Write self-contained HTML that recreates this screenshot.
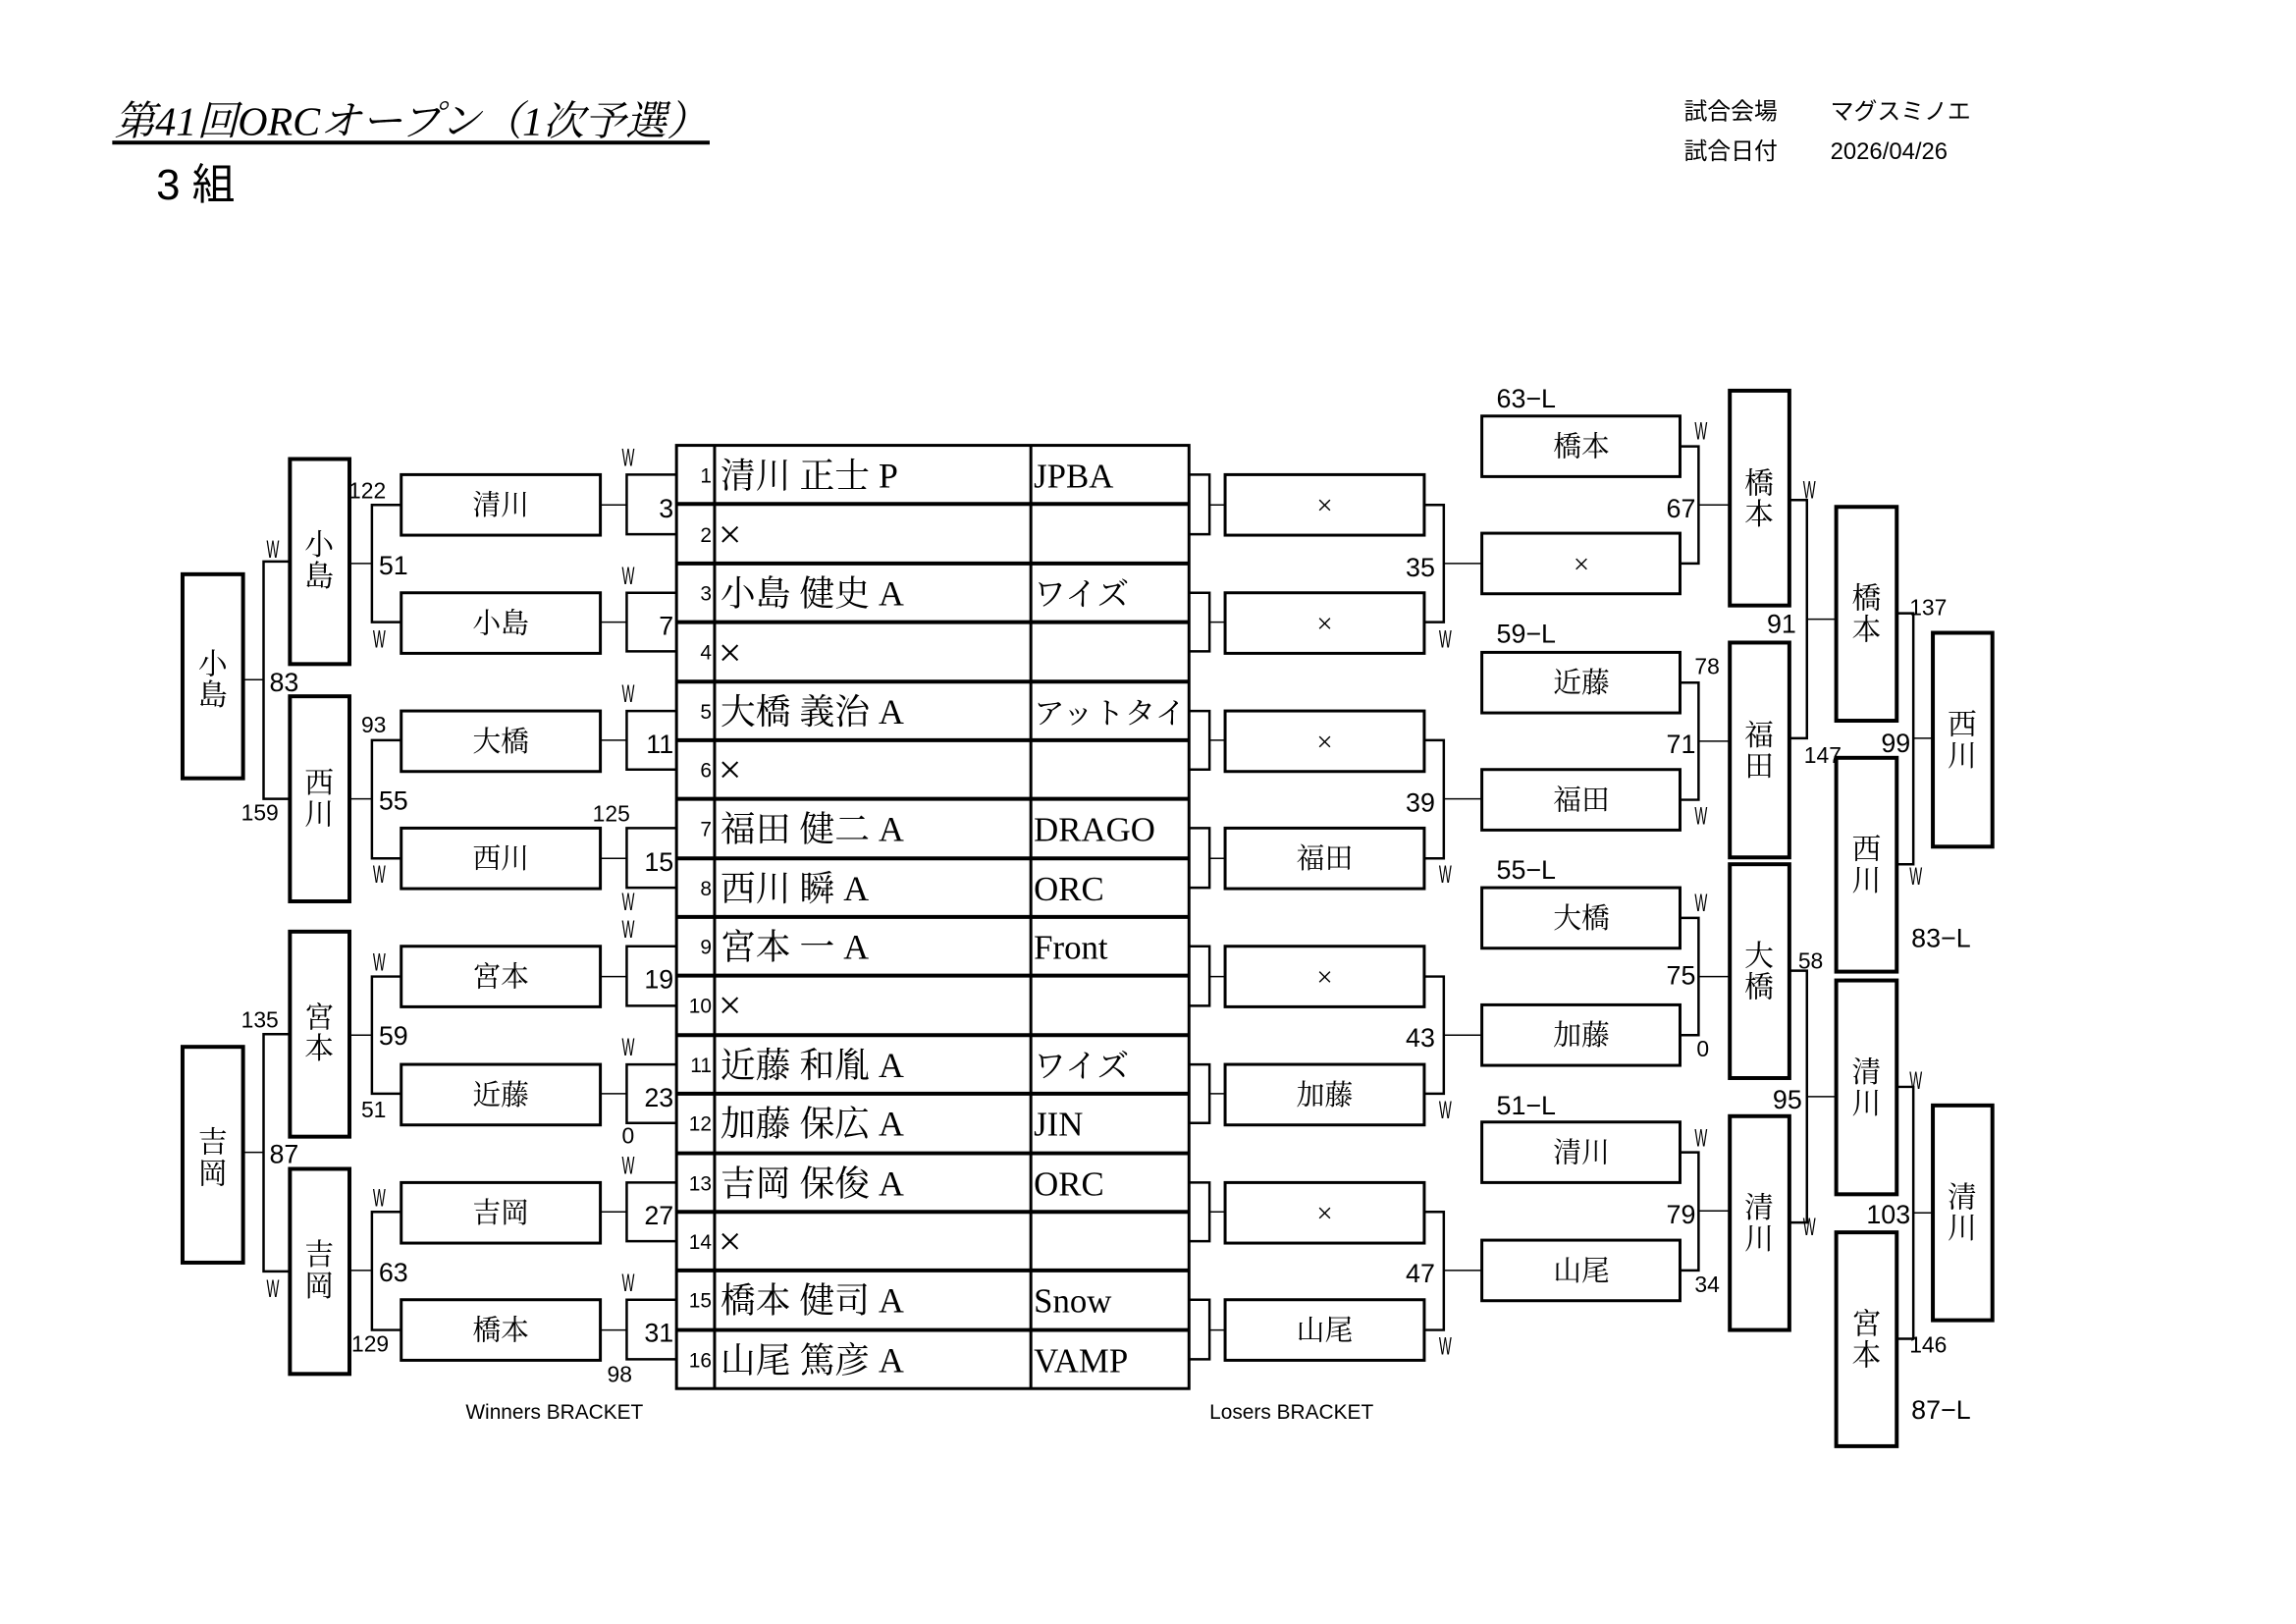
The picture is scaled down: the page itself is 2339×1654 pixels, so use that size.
<!DOCTYPE html>
<html><head><meta charset="utf-8">
<style>
html,body{margin:0;padding:0;background:#fff;}
svg{display:block;}
.s{font-family:"Liberation Sans","Noto Sans CJK JP",sans-serif;}
.m{font-family:"Liberation Serif","Noto Serif CJK SC",serif;}
</style></head>
<body>
<svg width="2339" height="1654" viewBox="0 0 2352 1663" xmlns="http://www.w3.org/2000/svg">
<rect x="0" y="0" width="2352" height="1663" fill="#fff"/>
<text x="117" y="138" class="m" font-size="42" font-style="italic" textLength="608" lengthAdjust="spacingAndGlyphs">第41回ORCオープン（1次予選）</text>
<line x1="115" y1="146" x2="727" y2="146" stroke="#000" stroke-width="4"/>
<text x="160" y="204" class="s" font-size="44">3 組</text>
<text x="1725" y="122" class="s" font-size="24">試合会場</text>
<text x="1875" y="122" class="s" font-size="24">マグスミノエ</text>
<text x="1725" y="163" class="s" font-size="24">試合日付</text>
<text x="1875" y="163" class="s" font-size="24">2026/04/26</text>

<g fill="none" stroke="#000">
<rect x="693" y="456" width="525" height="966" stroke-width="3"/>
<line x1="732" y1="456" x2="732" y2="1422" stroke-width="3"/>
<line x1="1056" y1="456" x2="1056" y2="1422" stroke-width="3"/>
<g stroke-width="4">
<line x1="693" y1="516" x2="1218" y2="516"/><line x1="693" y1="577" x2="1218" y2="577"/>
<line x1="693" y1="637" x2="1218" y2="637"/><line x1="693" y1="698" x2="1218" y2="698"/>
<line x1="693" y1="758" x2="1218" y2="758"/><line x1="693" y1="818" x2="1218" y2="818"/>
<line x1="693" y1="879" x2="1218" y2="879"/><line x1="693" y1="939" x2="1218" y2="939"/>
<line x1="693" y1="999" x2="1218" y2="999"/><line x1="693" y1="1060" x2="1218" y2="1060"/>
<line x1="693" y1="1120" x2="1218" y2="1120"/><line x1="693" y1="1181" x2="1218" y2="1181"/>
<line x1="693" y1="1241" x2="1218" y2="1241"/><line x1="693" y1="1301" x2="1218" y2="1301"/>
<line x1="693" y1="1362" x2="1218" y2="1362"/>
</g>

<g stroke-width="2.5">
<path d="M693 486H642V547H693"/><path d="M693 607H642V667H693"/>
<path d="M693 728H642V788H693"/><path d="M693 848H642V909H693"/>
<path d="M693 969H642V1030H693"/><path d="M693 1090H642V1150H693"/>
<path d="M693 1211H642V1271H693"/><path d="M693 1331H642V1392H693"/>
</g>
<g stroke-width="1.5">
<line x1="615" y1="517" x2="642" y2="517"/><line x1="615" y1="637" x2="642" y2="637"/>
<line x1="615" y1="758" x2="642" y2="758"/><line x1="615" y1="879" x2="642" y2="879"/>
<line x1="615" y1="1000" x2="642" y2="1000"/><line x1="615" y1="1120" x2="642" y2="1120"/>
<line x1="615" y1="1241" x2="642" y2="1241"/><line x1="615" y1="1362" x2="642" y2="1362"/>
</g>
<g stroke-width="3">
<rect x="411" y="486" width="204" height="62"/><rect x="411" y="607" width="204" height="62"/>
<rect x="411" y="728" width="204" height="62"/><rect x="411" y="848" width="204" height="62"/>
<rect x="411" y="969" width="204" height="62"/><rect x="411" y="1090" width="204" height="62"/>
<rect x="411" y="1211" width="204" height="62"/><rect x="411" y="1331" width="204" height="62"/>
</g>
<g stroke-width="2.5">
<path d="M411 517H381V637H411"/><path d="M411 758H381V879H411"/>
<path d="M411 1000H381V1120H411"/><path d="M411 1241H381V1362H411"/>
</g>
<g stroke-width="1.5">
<line x1="358" y1="577" x2="381" y2="577"/><line x1="358" y1="818" x2="381" y2="818"/>
<line x1="358" y1="1060" x2="381" y2="1060"/><line x1="358" y1="1301" x2="381" y2="1301"/>
</g>
<g stroke-width="4">
<rect x="297" y="470" width="61" height="210"/><rect x="297" y="713" width="61" height="210"/>
<rect x="297" y="954" width="61" height="210"/><rect x="297" y="1197" width="61" height="210"/>
</g>
<g stroke-width="2.5">
<path d="M297 575H270V818H297"/><path d="M297 1059H270V1302H297"/>
</g>
<g stroke-width="1.5">
<line x1="249" y1="696" x2="270" y2="696"/><line x1="249" y1="1180" x2="270" y2="1180"/>
</g>
<g stroke-width="4">
<rect x="187" y="588" width="62" height="209"/><rect x="187" y="1072" width="62" height="221"/>
</g>

<g stroke-width="2.5">
<path d="M1218 486H1239V547H1218"/><path d="M1218 607H1239V667H1218"/>
<path d="M1218 728H1239V788H1218"/><path d="M1218 848H1239V909H1218"/>
<path d="M1218 969H1239V1030H1218"/><path d="M1218 1090H1239V1150H1218"/>
<path d="M1218 1211H1239V1271H1218"/><path d="M1218 1331H1239V1392H1218"/>
</g>
<g stroke-width="1.5">
<line x1="1239" y1="517" x2="1255" y2="517"/><line x1="1239" y1="637" x2="1255" y2="637"/>
<line x1="1239" y1="758" x2="1255" y2="758"/><line x1="1239" y1="879" x2="1255" y2="879"/>
<line x1="1239" y1="1000" x2="1255" y2="1000"/><line x1="1239" y1="1120" x2="1255" y2="1120"/>
<line x1="1239" y1="1241" x2="1255" y2="1241"/><line x1="1239" y1="1362" x2="1255" y2="1362"/>
</g>
<g stroke-width="3">
<rect x="1255" y="486" width="204" height="62"/><rect x="1255" y="607" width="204" height="62"/>
<rect x="1255" y="728" width="204" height="62"/><rect x="1255" y="848" width="204" height="62"/>
<rect x="1255" y="969" width="204" height="62"/><rect x="1255" y="1090" width="204" height="62"/>
<rect x="1255" y="1211" width="204" height="62"/><rect x="1255" y="1331" width="204" height="62"/>
</g>
<g stroke-width="2.5">
<path d="M1459 517H1479V637H1459"/><path d="M1459 758H1479V879H1459"/>
<path d="M1459 1000H1479V1120H1459"/><path d="M1459 1241H1479V1362H1459"/>
</g>
<g stroke-width="1.5">
<line x1="1479" y1="577" x2="1518" y2="577"/><line x1="1479" y1="818" x2="1518" y2="818"/>
<line x1="1479" y1="1060" x2="1518" y2="1060"/><line x1="1479" y1="1301" x2="1518" y2="1301"/>
</g>
<g stroke-width="3">
<rect x="1518" y="426" width="203" height="62"/><rect x="1518" y="546" width="203" height="62"/>
<rect x="1518" y="668" width="203" height="62"/><rect x="1518" y="788" width="203" height="62"/>
<rect x="1518" y="909" width="203" height="62"/><rect x="1518" y="1029" width="203" height="62"/>
<rect x="1518" y="1149" width="203" height="62"/><rect x="1518" y="1270" width="203" height="62"/>
</g>
<g stroke-width="2.5">
<path d="M1721 457H1740V577H1721"/><path d="M1721 699H1740V819H1721"/>
<path d="M1721 940H1740V1060H1721"/><path d="M1721 1180H1740V1301H1721"/>
</g>
<g stroke-width="1.5">
<line x1="1740" y1="517" x2="1772" y2="517"/><line x1="1740" y1="759" x2="1772" y2="759"/>
<line x1="1740" y1="1000" x2="1772" y2="1000"/><line x1="1740" y1="1240" x2="1772" y2="1240"/>
</g>
<g stroke-width="4">
<rect x="1772" y="400" width="61" height="220"/><rect x="1772" y="658" width="61" height="220"/>
<rect x="1772" y="885" width="61" height="219"/><rect x="1772" y="1143" width="61" height="219"/>
</g>
<g stroke-width="2.5">
<path d="M1833 512H1851V756H1833"/><path d="M1833 994H1851V1252H1833"/>
</g>
<g stroke-width="1.5">
<line x1="1851" y1="634" x2="1881" y2="634"/><line x1="1851" y1="1123" x2="1881" y2="1123"/>
</g>
<g stroke-width="4">
<rect x="1881" y="519" width="62" height="219"/><rect x="1881" y="776" width="62" height="219"/>
<rect x="1881" y="1004" width="62" height="219"/><rect x="1881" y="1262" width="62" height="219"/>
</g>
<g stroke-width="2.5">
<path d="M1943 628H1960V885H1943"/><path d="M1943 1113H1960V1371H1943"/>
</g>
<g stroke-width="1.5">
<line x1="1960" y1="756" x2="1980" y2="756"/><line x1="1960" y1="1242" x2="1980" y2="1242"/>
</g>
<g stroke-width="4">
<rect x="1980" y="648" width="61" height="219"/><rect x="1980" y="1132" width="61" height="220"/>
</g>
</g>

<g class="s" font-size="21" text-anchor="end">
<text x="729" y="494">1</text><text x="729" y="555">2</text><text x="729" y="615">3</text><text x="729" y="675">4</text>
<text x="729" y="736">5</text><text x="729" y="796">6</text><text x="729" y="856">7</text><text x="729" y="917">8</text>
<text x="729" y="977">9</text><text x="729" y="1037">10</text><text x="729" y="1098">11</text><text x="729" y="1158">12</text>
<text x="729" y="1219">13</text><text x="729" y="1279">14</text><text x="729" y="1339">15</text><text x="729" y="1400">16</text>
</g>
<g class="m" font-size="36">
<text x="738" y="499">清川 正士 P</text>
<text x="738" y="620">小島 健史 A</text>
<text x="738" y="741">大橋 義治 A</text>
<text x="738" y="861">福田 健二 A</text><text x="738" y="922">西川 瞬 A</text>
<text x="738" y="982">宮本 一 A</text>
<text x="738" y="1103">近藤 和胤 A</text><text x="738" y="1163">加藤 保広 A</text>
<text x="738" y="1224">吉岡 保俊 A</text>
<text x="738" y="1344">橋本 健司 A</text><text x="738" y="1405">山尾 篤彦 A</text>
</g>
<g class="m" font-size="42">
<text x="736" y="561">×</text><text x="736" y="682">×</text><text x="736" y="802">×</text>
<text x="736" y="1043">×</text><text x="736" y="1285">×</text>
</g>
<g class="m" font-size="35">
<text x="1059" y="499">JPBA</text>
<text x="1059" y="620" font-size="33">ワイズ</text>
<text x="1059" y="741" font-size="31" textLength="156" lengthAdjust="spacingAndGlyphs">アットタイ</text>
<text x="1059" y="861">DRAGO</text><text x="1059" y="922">ORC</text>
<text x="1059" y="982">Front</text>
<text x="1059" y="1103" font-size="33">ワイズ</text><text x="1059" y="1163">JIN</text>
<text x="1059" y="1224">ORC</text>
<text x="1059" y="1344">Snow</text><text x="1059" y="1405">VAMP</text>
</g>

<g class="m" font-size="29" text-anchor="middle">
<text x="513" y="527">清川</text><text x="513" y="648">小島</text><text x="513" y="769">大橋</text><text x="513" y="889">西川</text>
<text x="513" y="1010">宮本</text><text x="513" y="1131">近藤</text><text x="513" y="1252">吉岡</text><text x="513" y="1372">橋本</text>
<text x="1357" y="527">×</text><text x="1357" y="648">×</text><text x="1357" y="769">×</text><text x="1357" y="889">福田</text>
<text x="1357" y="1010">×</text><text x="1357" y="1131">加藤</text><text x="1357" y="1252">×</text><text x="1357" y="1372">山尾</text>
<text x="1620" y="467">橋本</text><text x="1620" y="587">×</text><text x="1620" y="709">近藤</text><text x="1620" y="829">福田</text>
<text x="1620" y="950">大橋</text><text x="1620" y="1070">加藤</text><text x="1620" y="1190">清川</text><text x="1620" y="1311">山尾</text>
</g>
<g class="m" font-size="30" text-anchor="middle">
<text x="218" y="690">小</text><text x="218" y="722">島</text>
<text x="218" y="1180">吉</text><text x="218" y="1212">岡</text>
<text x="327" y="568">小</text><text x="327" y="600">島</text>
<text x="327" y="812">西</text><text x="327" y="844">川</text>
<text x="327" y="1052">宮</text><text x="327" y="1084">本</text>
<text x="327" y="1295">吉</text><text x="327" y="1327">岡</text>
<text x="1802" y="505">橋</text><text x="1802" y="537">本</text>
<text x="1802" y="763">福</text><text x="1802" y="795">田</text>
<text x="1802" y="989">大</text><text x="1802" y="1021">橋</text>
<text x="1802" y="1247">清</text><text x="1802" y="1279">川</text>
<text x="1912" y="623">橋</text><text x="1912" y="655">本</text>
<text x="1912" y="880">西</text><text x="1912" y="912">川</text>
<text x="1912" y="1108">清</text><text x="1912" y="1140">川</text>
<text x="1912" y="1366">宮</text><text x="1912" y="1398">本</text>
<text x="2010" y="752">西</text><text x="2010" y="784">川</text>
<text x="2010" y="1236">清</text><text x="2010" y="1268">川</text>
</g>

<g class="s" font-size="25">
<text x="637" y="477" textLength="13" lengthAdjust="spacingAndGlyphs">W</text>
<text x="637" y="598" textLength="13" lengthAdjust="spacingAndGlyphs">W</text>
<text x="637" y="719" textLength="13" lengthAdjust="spacingAndGlyphs">W</text>
<text x="637" y="932" textLength="13" lengthAdjust="spacingAndGlyphs">W</text>
<text x="637" y="960" textLength="13" lengthAdjust="spacingAndGlyphs">W</text>
<text x="637" y="1081" textLength="13" lengthAdjust="spacingAndGlyphs">W</text>
<text x="637" y="1202" textLength="13" lengthAdjust="spacingAndGlyphs">W</text>
<text x="637" y="1322" textLength="13" lengthAdjust="spacingAndGlyphs">W</text>
<text x="382" y="663" textLength="13" lengthAdjust="spacingAndGlyphs">W</text>
<text x="382" y="904" textLength="13" lengthAdjust="spacingAndGlyphs">W</text>
<text x="382" y="994" textLength="13" lengthAdjust="spacingAndGlyphs">W</text>
<text x="382" y="1235" textLength="13" lengthAdjust="spacingAndGlyphs">W</text>
<text x="273" y="571" textLength="13" lengthAdjust="spacingAndGlyphs">W</text>
<text x="273" y="1328" textLength="13" lengthAdjust="spacingAndGlyphs">W</text>
<text x="1474" y="663" textLength="13" lengthAdjust="spacingAndGlyphs">W</text>
<text x="1474" y="904" textLength="13" lengthAdjust="spacingAndGlyphs">W</text>
<text x="1474" y="1145" textLength="13" lengthAdjust="spacingAndGlyphs">W</text>
<text x="1474" y="1387" textLength="13" lengthAdjust="spacingAndGlyphs">W</text>
<text x="1736" y="450" textLength="13" lengthAdjust="spacingAndGlyphs">W</text>
<text x="1736" y="844" textLength="13" lengthAdjust="spacingAndGlyphs">W</text>
<text x="1736" y="933" textLength="13" lengthAdjust="spacingAndGlyphs">W</text>
<text x="1736" y="1174" textLength="13" lengthAdjust="spacingAndGlyphs">W</text>
<text x="1847" y="510" textLength="13" lengthAdjust="spacingAndGlyphs">W</text>
<text x="1847" y="1265" textLength="13" lengthAdjust="spacingAndGlyphs">W</text>
<text x="1956" y="906" textLength="13" lengthAdjust="spacingAndGlyphs">W</text>
<text x="1956" y="1115" textLength="13" lengthAdjust="spacingAndGlyphs">W</text>
</g>

<g class="s" font-size="27">
<g text-anchor="end">
<text x="690" y="530">3</text><text x="690" y="650">7</text><text x="690" y="771">11</text><text x="690" y="892">15</text>
<text x="690" y="1012">19</text><text x="690" y="1133">23</text><text x="690" y="1254">27</text><text x="690" y="1374">31</text>
<text x="1470" y="590">35</text><text x="1470" y="831">39</text><text x="1470" y="1072">43</text><text x="1470" y="1313">47</text>
<text x="1737" y="530">67</text><text x="1737" y="771">71</text><text x="1737" y="1008">75</text><text x="1737" y="1253">79</text>
<text x="1840" y="648">91</text><text x="1846" y="1135">95</text>
<text x="1957" y="770">99</text><text x="1957" y="1253">103</text>
</g>
<text x="388" y="588">51</text><text x="388" y="829">55</text><text x="388" y="1070">59</text><text x="388" y="1312">63</text>
<text x="276" y="708">83</text><text x="276" y="1191">87</text>
<text x="1533" y="417">63−L</text><text x="1533" y="658">59−L</text><text x="1533" y="900">55−L</text><text x="1533" y="1141">51−L</text>
<text x="1958" y="970">83−L</text><text x="1958" y="1453">87−L</text>
</g>
<g class="s" font-size="23">
<text x="357" y="510">122</text><text x="370" y="750">93</text><text x="370" y="1144">51</text><text x="360" y="1384">129</text>
<text x="247" y="1052">135</text><text x="247" y="840">159</text>
<text x="607" y="841">125</text><text x="637" y="1171">0</text><text x="622" y="1415">98</text>
<text x="1736" y="690">78</text><text x="1738" y="1082">0</text><text x="1736" y="1323">34</text>
<text x="1842" y="992">58</text><text x="1848" y="781">147</text>
<text x="1956" y="630">137</text><text x="1956" y="1385">146</text>
</g>

<g class="s" font-size="21">
<text x="477" y="1453">Winners BRACKET</text>
<text x="1239" y="1453">Losers BRACKET</text>
</g>
</svg>
</body></html>
